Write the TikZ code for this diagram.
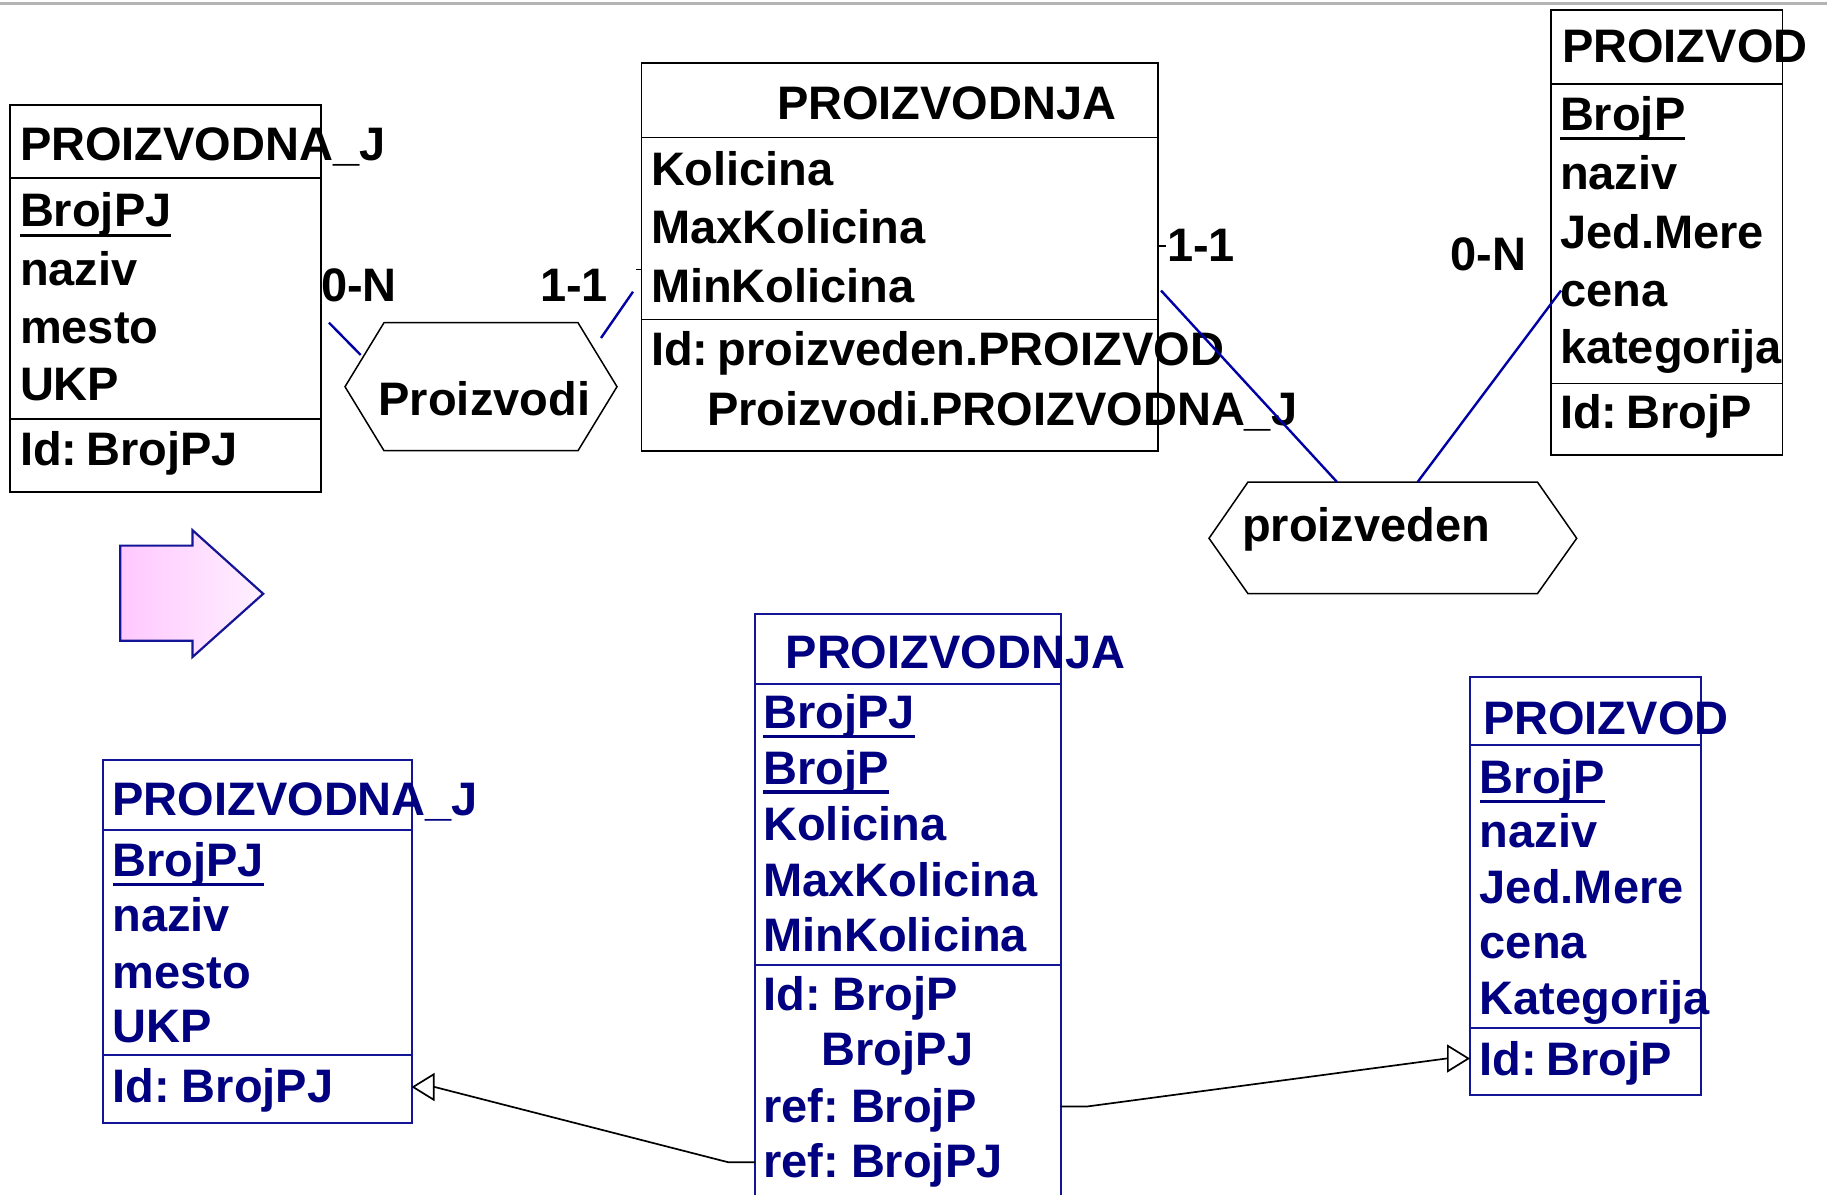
\documentclass[tikz,border=0pt]{standalone}
\usepackage{fontspec}
\setmainfont{Liberation Sans}
\usetikzlibrary{arrows.meta}
\definecolor{nv}{RGB}{0,0,128}
\definecolor{nvline}{RGB}{20,20,150}
\definecolor{bl}{RGB}{0,0,165}
\definecolor{pkA}{RGB}{255,200,255}
\definecolor{pkB}{RGB}{255,240,255}
\definecolor{grayline}{RGB}{180,180,180}
\newcommand\ulx[2]{\setbox0\hbox{#2}\rlap{\rule[-#1pt]{\wd0}{3.5pt}}\box0}
\newcommand\idgap{\hspace{9pt}}
\newcommand\idgapb{\hspace{12pt}}
\tikzset{
  txt/.style={anchor=base west, inner sep=0pt, outer sep=0pt, font=\fontsize{47}{56}\selectfont\bfseries},
  ntxt/.style={txt, text=nv},
  ebox/.style={draw=black, line width=1.8pt, anchor=north west, inner sep=0pt, outer sep=0pt},
  nbox/.style={draw=nvline, line width=2pt, anchor=north west, inner sep=0pt, outer sep=0pt},
  hexa/.style={draw=black, line width=1.5pt, line join=miter},
  conn/.style={draw=bl, line width=2.4pt},
  tick/.style={draw=black, line width=1.4pt},
  refarr/.style={draw=black, line width=1.7pt, -{Triangle[open, length=23pt, width=28pt, line width=1.7pt]}},
}
\begin{document}
\begin{tikzpicture}[x=1pt,y=-1pt]
\useasboundingbox (0,0) rectangle (1827,1194);
\draw[grayline, line width=2.5pt] (0,3.5) -- (1827,3.5);

% ---------- top: PROIZVODNA_J ----------
\node[ebox, minimum width=311.2pt, minimum height=387pt] (pj1) at (9.8,104.7) {};
\draw[black, line width=1.8pt] (9.8,177.7) -- (321,177.7);
\draw[black, line width=1.8pt] (9.8,419) -- (321,419);
\node[txt] (pj1t) at (20,160) {PROIZVODNA\_J};
\node[txt] (pj1a) at (20,226.7) {\ulx{10.3}{BrojPJ}};
\node[txt] (pj1b) at (20,285) {naziv};
\node[txt] (pj1c) at (20,343.3) {mesto};
\node[txt] (pj1d) at (20,400) {UKP};
\node[txt] (pj1e) at (20,465) {Id:\idgap BrojPJ};

% ---------- top: Proizvodi ----------
\coordinate (h1l) at (345,386.7);
\coordinate (h1tl) at (384,322.7);
\coordinate (h1tr) at (578,322.7);
\coordinate (h1r) at (617,386.7);
\coordinate (h1br) at (578,450.7);
\coordinate (h1bl) at (384,450.7);
\draw[hexa] (h1l) -- (h1tl) -- (h1tr) -- (h1r) -- (h1br) -- (h1bl) -- cycle;
\node[txt] (h1t) at (378.6,415) {Proizvodi};
\node[txt] (c0n1) at (321,301.7) {0-N};
\node[txt] (c111) at (540,301.7) {1-1};

% ---------- top: PROIZVODNJA ----------
\node[ebox, minimum width=516.6pt, minimum height=387.4pt] (pn1) at (641.4,63.2) {};
\draw[black, line width=1.8pt] (641.4,137.5) -- (1158,137.5);
\draw[black, line width=1.8pt] (641.4,319.4) -- (1158,319.4);
\node[txt] (pn1t) at (777,119.4) {PROIZVODNJA};
\node[txt] (pn1a) at (651,185.8) {Kolicina};
\node[txt] (pn1b) at (651,243) {MaxKolicina};
\node[txt] (pn1c) at (651,302.4) {MinKolicina};
\node[txt] (pn1d) at (651,365.6) {Id:\idgap proizveden.PROIZVOD};
\node[txt] (pn1e) at (707,425) {Proizvodi.PROIZVODNA\_J};
\node[txt] (c112) at (1167,261) {1-1};

% ---------- top: PROIZVOD ----------
\node[ebox, minimum width=231.8pt, minimum height=445.4pt] (pr1) at (1550.7,9.9) {};
\draw[black, line width=1.8pt] (1550.7,83.8) -- (1782.5,83.8);
\draw[black, line width=1.8pt] (1550.7,383.4) -- (1782.5,383.4);
\node[txt] (pr1t) at (1562,62.5) {PROIZVOD};
\node[txt] (pr1a) at (1560,130.4) {\ulx{10}{BrojP}};
\node[txt] (pr1b) at (1560,189.7) {naziv};
\node[txt] (pr1c) at (1560,248) {Jed.Mere};
\node[txt] (pr1d) at (1560,306) {cena};
\node[txt] (pr1e) at (1560,363.6) {kategorija};
\node[txt] (pr1f) at (1560,428.9) {Id:\idgap BrojP};
\node[txt] (c0n2) at (1450.7,270.8) {0-N};

% ---------- top: proizveden ----------
\coordinate (h2l) at (1209,538.3);
\coordinate (h2tl) at (1248,482);
\coordinate (h2tr) at (1537.4,482);
\coordinate (h2r) at (1576.7,538.3);
\coordinate (h2br) at (1537.4,593.7);
\coordinate (h2bl) at (1248,593.7);
\draw[hexa] (h2l) -- (h2tl) -- (h2tr) -- (h2r) -- (h2br) -- (h2bl) -- cycle;
\node[txt] (h2t) at (1242,541.5) {proizveden};

% ---------- top connectors ----------
\coordinate (k1a) at (329,322.7);
\coordinate (k1b) at (360.7,355);
\coordinate (k2a) at (601,338);
\coordinate (k2b) at (633,291.7);
\coordinate (k3a) at (1161,290.5);
\coordinate (k3b) at (1337,482);
\coordinate (k4a) at (1561,290.5);
\coordinate (k4b) at (1417.6,482);
\draw[conn] (k1a) -- (k1b);
\draw[conn] (k2a) -- (k2b);
\draw[conn] (k3a) -- (k3b);
\draw[conn] (k4a) -- (k4b);
\coordinate (t1a) at (636,269.3);
\coordinate (t1b) at (641.4,269.3);
\coordinate (t2a) at (1158,246);
\coordinate (t2b) at (1166,246);
\draw[tick] (t1a) -- (t1b);
\draw[tick] (t2a) -- (t2b);

% ---------- pink arrow ----------
\coordinate (pa1) at (120.2,545.6);
\coordinate (pa2) at (192.4,545.6);
\coordinate (pa3) at (192.4,530.1);
\coordinate (pa4) at (263.2,593.8);
\coordinate (pa5) at (192.4,657.1);
\coordinate (pa6) at (192.4,640.7);
\coordinate (pa7) at (120.2,640.7);
\draw[draw=nvline, line width=2.2pt, line join=miter, left color=pkA, right color=pkB]
  (pa1) -- (pa2) -- (pa3) -- (pa4) -- (pa5) -- (pa6) -- (pa7) -- cycle;

% ---------- bottom: PROIZVODNA_J ----------
\node[nbox, minimum width=308.7pt, minimum height=362.9pt] (pj2) at (102.8,759.7) {};
\draw[nvline, line width=2pt] (102.8,829.6) -- (411.5,829.6);
\draw[nvline, line width=2pt] (102.8,1055.3) -- (411.5,1055.3);
\node[ntxt] (pj2t) at (112.5,815) {PROIZVODNA\_J};
\node[ntxt] (pj2a) at (112.5,876) {\ulx{10}{BrojPJ}};
\node[ntxt] (pj2b) at (112.5,931.4) {naziv};
\node[ntxt] (pj2c) at (112.5,988) {mesto};
\node[ntxt] (pj2d) at (112.5,1042) {UKP};
\node[ntxt] (pj2e) at (112.5,1102.6) {Id:\idgapb BrojPJ};

% ---------- bottom: PROIZVODNJA ----------
\node[nbox, minimum width=305.7pt, minimum height=600pt] (pn2) at (755,614.2) {};
\draw[nvline, line width=2pt] (755,683.5) -- (1060.7,683.5);
\draw[nvline, line width=2pt] (755,965) -- (1060.7,965);
\node[ntxt] (pn2t) at (785.7,668.8) {PROIZVODNJA};
\node[ntxt] (pn2a) at (763.3,728.5) {\ulx{9.5}{BrojPJ}};
\node[ntxt] (pn2b) at (763.3,784) {\ulx{9.5}{BrojP}};
\node[ntxt] (pn2c) at (763.3,840) {Kolicina};
\node[ntxt] (pn2d) at (763.3,896.5) {MaxKolicina};
\node[ntxt] (pn2e) at (763.3,951.5) {MinKolicina};
\node[ntxt] (pn2f) at (763.3,1010) {Id:\idgapb BrojP};
\node[ntxt] (pn2g) at (821.7,1065.8) {BrojPJ};
\node[ntxt] (pn2h) at (763.3,1122) {ref:\idgapb BrojP};
\node[ntxt] (pn2i) at (763.3,1177.3) {ref:\idgapb BrojPJ};

% ---------- bottom: PROIZVOD ----------
\node[nbox, minimum width=231pt, minimum height=418.7pt] (pr2) at (1470,676.6) {};
\draw[nvline, line width=2pt] (1470,745.2) -- (1701,745.2);
\draw[nvline, line width=2pt] (1470,1027.8) -- (1701,1027.8);
\node[ntxt] (pr2t) at (1483,734.2) {PROIZVOD};
\node[ntxt] (pr2a) at (1479.8,793.9) {\ulx{9.5}{BrojP}};
\node[ntxt] (pr2b) at (1479.8,847.3) {naziv};
\node[ntxt] (pr2c) at (1479.8,903.5) {Jed.Mere};
\node[ntxt] (pr2d) at (1479.8,958.7) {cena};
\node[ntxt] (pr2e) at (1479.8,1014.2) {Kategorija};
\node[ntxt] (pr2f) at (1479.8,1075.5) {Id:\idgap BrojP};

% ---------- bottom references ----------
\coordinate (r1a) at (755,1162.3);
\coordinate (r1b) at (728.5,1162.3);
\coordinate (r1c) at (434.7,1087);
\coordinate (r1d) at (411.5,1087);
\draw[refarr] (r1a) -- (r1b) -- (r1c) -- (r1d);
\coordinate (r2a) at (1060.7,1106.5);
\coordinate (r2b) at (1087,1106.5);
\coordinate (r2c) at (1446.5,1058.5);
\coordinate (r2d) at (1470,1058.5);
\draw[refarr] (r2a) -- (r2b) -- (r2c) -- (r2d);
\end{tikzpicture}
\end{document}
